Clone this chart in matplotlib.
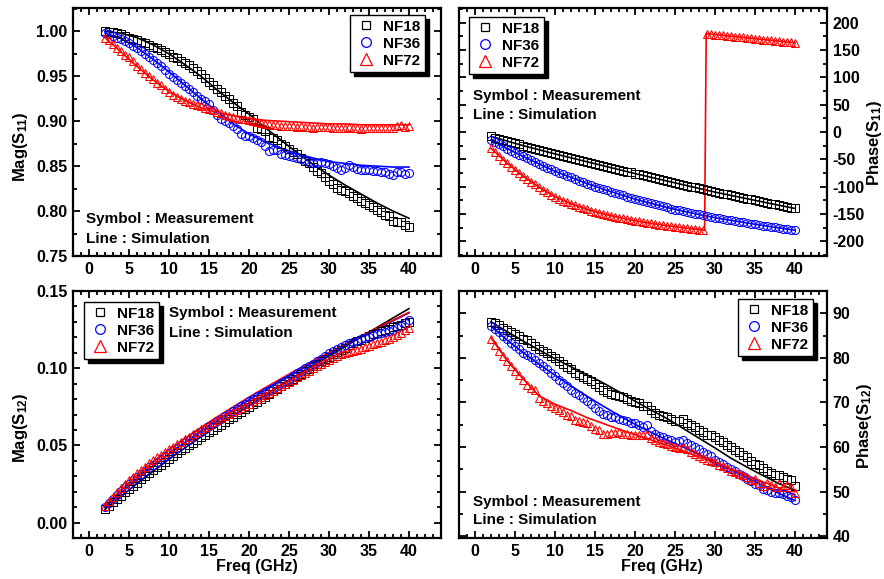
import numpy as np
import matplotlib
matplotlib.use("Agg")
import matplotlib.pyplot as plt
from matplotlib.lines import Line2D
from matplotlib.ticker import MultipleLocator, FormatStrFormatter

# ---------------------------------------------------------------- data
series_names = ["NF18", "NF36", "NF72"]
series_colors = ["black", "blue", "red"]
series_markers = ["s", "o", "^"]

# measurement sweep: 2 - 40 GHz, 0.5 GHz step
meas_freq = np.arange(2.0, 40.25, 0.5)
# simulation curves: 2 GHz step
sim_freq = np.arange(2.0, 40.5, 2.0)

# |S11|
s11_mag_nf18 = [
    1.000, 0.9995, 0.999, 0.998, 0.997, 0.995, 0.993, 0.992, 0.990, 0.988,
    0.987, 0.985, 0.983, 0.981, 0.979, 0.977, 0.975, 0.972, 0.970, 0.967,
    0.965, 0.963, 0.959, 0.956, 0.952, 0.948, 0.944, 0.940, 0.936, 0.932,
    0.928, 0.925, 0.920, 0.917, 0.910, 0.907, 0.905, 0.902, 0.893, 0.891,
    0.889, 0.882, 0.881, 0.879, 0.875, 0.872, 0.869, 0.866, 0.863, 0.859,
    0.856, 0.853, 0.849, 0.845, 0.842, 0.838, 0.834, 0.830, 0.826, 0.823,
    0.822, 0.820, 0.817, 0.814, 0.811, 0.809, 0.807, 0.804, 0.801, 0.799,
    0.796, 0.794, 0.789, 0.788, 0.788, 0.785, 0.782]
s11_mag_nf36 = [
    0.998, 0.997, 0.995, 0.993, 0.991, 0.989, 0.987, 0.984, 0.981, 0.978,
    0.975, 0.972, 0.968, 0.965, 0.961, 0.957, 0.953, 0.949, 0.946, 0.942,
    0.939, 0.936, 0.932, 0.928, 0.925, 0.922, 0.919, 0.912, 0.907, 0.903,
    0.900, 0.898, 0.895, 0.891, 0.886, 0.884, 0.883, 0.881, 0.879, 0.877,
    0.872, 0.867, 0.868, 0.868, 0.864, 0.862, 0.861, 0.860, 0.859, 0.858,
    0.857, 0.855, 0.853, 0.854, 0.855, 0.853, 0.852, 0.850, 0.848, 0.846,
    0.848, 0.851, 0.849, 0.847, 0.846, 0.846, 0.846, 0.845, 0.845, 0.844,
    0.843, 0.841, 0.840, 0.843, 0.844, 0.841, 0.842]
s11_mag_nf72 = [
    0.993, 0.990, 0.986, 0.982, 0.978, 0.974, 0.971, 0.967, 0.962, 0.958,
    0.954, 0.950, 0.947, 0.943, 0.940, 0.936, 0.932, 0.929, 0.927, 0.925,
    0.923, 0.921, 0.919, 0.918, 0.917, 0.915, 0.914, 0.912, 0.910, 0.909,
    0.907, 0.906, 0.905, 0.904, 0.903, 0.902, 0.901, 0.900, 0.899, 0.898,
    0.897, 0.897, 0.896, 0.896, 0.895, 0.895, 0.895, 0.895, 0.894, 0.895,
    0.894, 0.894, 0.893, 0.894, 0.894, 0.894, 0.894, 0.893, 0.892, 0.892,
    0.893, 0.894, 0.893, 0.892, 0.891, 0.893, 0.893, 0.893, 0.893, 0.892,
    0.893, 0.893, 0.893, 0.895, 0.896, 0.894, 0.895]
s11_mag_sim_nf18 = [1.000, 0.998, 0.993, 0.985, 0.975, 0.963, 0.950, 0.935, 0.921, 0.908,
                    0.893, 0.879, 0.865, 0.852, 0.840, 0.829, 0.819, 0.809, 0.800, 0.792]
s11_mag_sim_nf36 = [0.998, 0.992, 0.982, 0.969, 0.955, 0.940, 0.925, 0.911, 0.897, 0.886,
                    0.877, 0.870, 0.864, 0.859, 0.855, 0.853, 0.851, 0.850, 0.849, 0.849]
s11_mag_sim_nf72 = [0.993, 0.977, 0.961, 0.946, 0.933, 0.923, 0.915, 0.910, 0.906, 0.903,
                    0.901, 0.900, 0.899, 0.898, 0.897, 0.897, 0.896, 0.896, 0.896, 0.896]

# phase of S11 (deg)
s11_ph_nf18 = [
    -8.0, -10.2, -12.3, -14.5, -16.6, -18.9, -21.0, -22.8, -24.9, -26.6,
    -28.7, -30.4, -32.5, -34.2, -36.3, -38.0, -40.1, -41.7, -43.7, -45.3,
    -47.3, -48.9, -50.9, -52.5, -54.5, -56.1, -58.1, -59.7, -61.7, -63.3,
    -65.3, -66.9, -68.9, -70.5, -72.5, -74.1, -76.1, -77.6, -79.5, -81.0,
    -82.9, -84.4, -86.3, -87.8, -89.7, -91.2, -93.1, -94.6, -96.5, -98.0,
    -99.9, -101.4, -103.3, -104.8, -106.7, -108.2, -110.0, -111.4, -113.1, -114.4,
    -116.1, -117.4, -119.1, -120.4, -122.1, -123.4, -125.1, -126.4, -128.1, -129.4,
    -131.1, -132.4, -134.1, -135.4, -137.1, -138.4, -140.0]
s11_ph_nf36 = [
    -15.0, -18.9, -22.7, -26.5, -30.3, -34.2, -38.0, -41.4, -44.8, -48.2,
    -51.6, -55.0, -58.4, -61.8, -65.2, -68.6, -72.0, -74.8, -77.6, -80.4,
    -83.2, -86.0, -88.8, -91.6, -94.4, -97.2, -100.0, -102.3, -104.6, -106.9,
    -109.2, -111.5, -113.8, -116.1, -118.4, -120.7, -123.0, -124.9, -126.8, -128.7,
    -130.6, -132.5, -134.4, -136.3, -138.2, -140.1, -142.0, -143.5, -145.0, -146.5,
    -148.0, -149.5, -151.0, -152.5, -154.0, -155.5, -157.0, -158.2, -159.4, -160.6,
    -161.8, -163.0, -164.2, -165.4, -166.6, -167.8, -169.0, -170.1, -171.2, -172.3,
    -173.4, -174.5, -175.6, -176.7, -177.8, -178.9, -180.0]
s11_ph_nf72 = [
    -30.0, -37.0, -44.0, -51.0, -57.0, -63.5, -69.5, -75.0, -80.5, -86.0,
    -91.0, -96.0, -101.0, -105.5, -110.0, -114.5, -118.5, -122.0, -125.5, -128.5,
    -131.5, -134.0, -136.5, -139.0, -141.5, -143.8, -146.0, -148.0, -149.9, -151.7,
    -153.4, -155.0, -156.6, -158.1, -159.6, -161.0, -162.4, -163.7, -165.0, -166.2,
    -167.4, -168.5, -169.6, -170.6, -171.6, -172.6, -173.5, -174.4, -175.3, -176.2,
    -177.0, -177.8, -178.6, -179.4, 179.8, 179.0, 178.3, 177.5, 176.8, 176.0,
    175.3, 174.5, 173.8, 173.0, 172.3, 171.5, 170.8, 170.0, 169.3, 168.5,
    167.8, 167.0, 166.3, 165.5, 164.8, 164.0, 163.3]
s11_ph_sim_nf18 = [-8.0, -16.6, -24.9, -32.5, -40.1, -47.3, -54.5, -61.7, -68.9, -76.1,
                   -82.9, -89.7, -96.5, -103.3, -110.0, -116.1, -122.1, -128.1, -134.1, -140.0]
s11_ph_sim_nf36 = [-15.0, -30.3, -44.8, -58.4, -72.0, -83.2, -94.4, -104.6, -113.8, -123.0,
                   -130.6, -138.2, -145.0, -151.0, -157.0, -161.8, -166.6, -171.2, -175.6, -180.0]
# NF72 simulation wraps from -180 to +180 deg near 28.8 GHz
s11_ph_sim_nf72_freq = [2, 4, 6, 8, 10, 12, 14, 16, 18, 20, 22, 24, 26, 28, 28.7, 28.9,
                        30, 32, 34, 36, 38, 40]
s11_ph_sim_nf72 = [-30.0, -57.0, -80.5, -101.0, -118.5, -131.5, -141.5, -149.9, -156.6, -162.4,
                   -167.4, -171.6, -175.3, -178.6, -180.0, 180.0,
                   178.3, 175.3, 172.3, 169.3, 166.3, 163.3]

# |S12|
s12_mag_nf18 = [
    0.0086, 0.0108, 0.0131, 0.0153, 0.0175, 0.0197, 0.0218, 0.0239, 0.0259, 0.0279,
    0.0299, 0.0319, 0.0338, 0.0357, 0.0376, 0.0395, 0.0413, 0.0431, 0.0449, 0.0467,
    0.0484, 0.0501, 0.0518, 0.0535, 0.0552, 0.0569, 0.0585, 0.0602, 0.0618, 0.0635,
    0.0651, 0.0668, 0.0684, 0.0701, 0.0717, 0.0734, 0.0750, 0.0767, 0.0783, 0.0800,
    0.0816, 0.0833, 0.0849, 0.0866, 0.0882, 0.0899, 0.0915, 0.0932, 0.0948, 0.0964,
    0.0980, 0.0996, 0.1012, 0.1028, 0.1044, 0.1060, 0.1075, 0.1090, 0.1105, 0.1119,
    0.1133, 0.1147, 0.1160, 0.1173, 0.1185, 0.1197, 0.1208, 0.1219, 0.1229, 0.1239,
    0.1248, 0.1257, 0.1265, 0.1273, 0.1281, 0.1290, 0.1300]
s12_mag_nf36 = [
    0.0099, 0.0126, 0.0152, 0.0178, 0.0204, 0.0228, 0.0252, 0.0274, 0.0296, 0.0317,
    0.0337, 0.0357, 0.0376, 0.0395, 0.0413, 0.0431, 0.0449, 0.0467, 0.0484, 0.0502,
    0.0519, 0.0537, 0.0554, 0.0572, 0.0589, 0.0606, 0.0623, 0.0640, 0.0656, 0.0673,
    0.0689, 0.0705, 0.0721, 0.0737, 0.0753, 0.0769, 0.0785, 0.0800, 0.0818, 0.0826,
    0.0843, 0.0858, 0.0872, 0.0887, 0.0902, 0.0917, 0.0932, 0.0949, 0.0966, 0.0982,
    0.0998, 0.1014, 0.1030, 0.1046, 0.1062, 0.1079, 0.1098, 0.1112, 0.1125, 0.1138,
    0.1150, 0.1160, 0.1170, 0.1179, 0.1188, 0.1197, 0.1205, 0.1213, 0.1220, 0.1227,
    0.1234, 0.1242, 0.1250, 0.1262, 0.1275, 0.1290, 0.1310]
s12_mag_nf72 = [
    0.0107, 0.0138, 0.0168, 0.0196, 0.0224, 0.0250, 0.0275, 0.0298, 0.0321, 0.0342,
    0.0363, 0.0383, 0.0403, 0.0422, 0.0440, 0.0458, 0.0475, 0.0492, 0.0508, 0.0524,
    0.0540, 0.0556, 0.0572, 0.0588, 0.0604, 0.0620, 0.0635, 0.0649, 0.0663, 0.0677,
    0.0690, 0.0704, 0.0717, 0.0731, 0.0744, 0.0758, 0.0771, 0.0785, 0.0799, 0.0813,
    0.0827, 0.0841, 0.0855, 0.0869, 0.0883, 0.0897, 0.0911, 0.0926, 0.0940, 0.0955,
    0.0969, 0.0984, 0.0998, 0.1013, 0.1027, 0.1041, 0.1055, 0.1068, 0.1080, 0.1089,
    0.1098, 0.1104, 0.1109, 0.1118, 0.1127, 0.1136, 0.1145, 0.1154, 0.1163, 0.1172,
    0.1181, 0.1190, 0.1200, 0.1214, 0.1228, 0.1245, 0.1262]
s12_mag_sim_nf18 = [0.0086, 0.0170, 0.0252, 0.0332, 0.0410, 0.0484, 0.0556, 0.0626, 0.0694, 0.0760,
                    0.0826, 0.0890, 0.0954, 0.1016, 0.1078, 0.1140, 0.1202, 0.1264, 0.1325, 0.1386]
s12_mag_sim_nf36 = [0.0099, 0.0192, 0.0280, 0.0364, 0.0444, 0.0520, 0.0593, 0.0663, 0.0730, 0.0795,
                    0.0858, 0.0919, 0.0978, 0.1036, 0.1092, 0.1147, 0.1201, 0.1254, 0.1306, 0.1358]
s12_mag_sim_nf72 = [0.0107, 0.0212, 0.0305, 0.0390, 0.0470, 0.0545, 0.0616, 0.0684, 0.0749, 0.0812,
                    0.0873, 0.0932, 0.0990, 0.1046, 0.1101, 0.1155, 0.1208, 0.1260, 0.1311, 0.1362]

# phase of S12 (deg)
s12_ph_nf18 = [
    88.1, 87.8, 87.3, 86.8, 86.3, 85.8, 85.3, 84.8, 84.3, 83.9,
    83.4, 82.7, 82.0, 81.5, 81.0, 80.5, 79.9, 79.4, 78.6, 78.0,
    77.4, 76.7, 76.2, 75.8, 75.3, 74.8, 74.1, 73.5, 72.9, 72.3,
    71.9, 71.7, 71.5, 71.2, 70.8, 70.3, 70.2, 69.9, 69.3, 69.3,
    68.4, 67.6, 67.2, 67.0, 66.7, 66.2, 65.8, 65.9, 66.2, 65.4,
    64.9, 64.4, 63.8, 63.4, 62.8, 62.6, 62.2, 61.6, 61.1, 60.5,
    60.1, 59.4, 58.8, 58.3, 57.7, 56.9, 56.3, 55.9, 55.3, 54.6,
    54.2, 53.8, 53.7, 53.2, 52.8, 52.6, 51.3]
s12_ph_nf36 = [
    87.1, 86.5, 85.8, 85.0, 84.3, 83.4, 82.6, 81.9, 81.2, 80.6,
    80.1, 79.5, 78.8, 78.2, 77.4, 76.6, 75.9, 75.1, 74.4, 73.6,
    72.8, 72.1, 71.6, 71.1, 70.4, 69.6, 68.8, 68.1, 67.5, 67.1,
    66.8, 66.7, 66.3, 66.0, 65.8, 65.4, 65.5, 64.9, 64.6, 65.0,
    63.5, 62.9, 62.5, 62.2, 61.9, 61.5, 61.2, 61.3, 61.6, 60.8,
    60.4, 60.1, 59.6, 59.0, 58.4, 57.9, 57.2, 56.7, 56.2, 55.5,
    55.1, 54.6, 54.0, 53.4, 52.9, 52.3, 51.8, 51.4, 50.6, 50.3,
    49.9, 49.6, 49.8, 49.4, 49.0, 48.7, 48.2]
s12_ph_nf72 = [
    84.2, 82.9, 81.6, 80.4, 79.2, 78.1, 77.1, 76.1, 75.0, 74.0,
    73.3, 72.8, 71.0, 70.4, 69.9, 69.3, 68.8, 68.3, 67.8, 67.3,
    66.9, 66.0, 65.8, 65.7, 65.3, 64.7, 64.1, 63.8, 63.0, 63.0,
    63.1, 63.1, 63.4, 63.0, 62.9, 62.6, 62.6, 62.8, 62.6, 62.9,
    62.0, 61.6, 61.2, 60.9, 60.7, 60.3, 60.0, 59.8, 60.0, 59.5,
    59.0, 58.4, 58.0, 57.6, 57.2, 56.9, 56.6, 56.0, 55.8, 55.2,
    54.7, 54.4, 53.9, 53.7, 53.3, 52.7, 52.9, 51.9, 51.3, 51.9,
    51.4, 51.0, 51.9, 51.1, 51.4, 51.0, 49.8]
s12_ph_sim_nf18 = [88.1, 85.9, 83.8, 81.8, 79.8, 78.0, 76.2, 74.4, 72.4, 70.3,
                   68.3, 66.4, 64.2, 62.0, 59.8, 57.5, 55.5, 53.6, 51.8, 50.3]
s12_ph_sim_nf36 = [87.1, 84.0, 81.2, 78.6, 76.1, 73.7, 71.4, 69.2, 67.1, 65.1,
                   63.3, 61.6, 60.0, 58.3, 56.6, 54.9, 53.1, 51.3, 49.6, 48.0]
s12_ph_sim_nf72 = [84.5, 79.4, 75.3, 71.5, 69.6, 68.2, 66.6, 65.3, 64.0, 62.8,
                   61.6, 60.4, 59.1, 57.8, 56.5, 55.0, 53.6, 52.2, 50.8, 49.3]

# ---------------------------------------------------------------- style
plt.rcParams["font.family"] = ["Liberation Sans", "DejaVu Sans"]
plt.rcParams["font.weight"] = "bold"
plt.rcParams["axes.labelweight"] = "bold"
plt.rcParams["mathtext.default"] = "regular"

W, H = 884, 579
fig = plt.figure(figsize=(W / 100, H / 100), dpi=100)

TICK_FS = 11.5
TEXT_FS = 11
LABEL_FS = 12


def fx(px):
    return px / W


def fy(py):
    return 1 - py / H


def add_panel(left, top, right, bottom):
    return fig.add_axes([fx(left), fy(bottom), (right - left) / W, (bottom - top) / H])


def style_axes(ax, ylim, ymajor, yminor, yfmt, label_side):
    ax.set_xlim(-2, 44)
    ax.set_ylim(*ylim)
    ax.xaxis.set_major_locator(MultipleLocator(5))
    ax.xaxis.set_minor_locator(MultipleLocator(1))
    ax.yaxis.set_major_locator(MultipleLocator(ymajor))
    ax.yaxis.set_minor_locator(MultipleLocator(yminor))
    ax.yaxis.set_major_formatter(FormatStrFormatter(yfmt))
    for sp in ax.spines.values():
        sp.set_linewidth(1.6)
    ax.tick_params(which="both", direction="in", top=True, bottom=True,
                   left=True, right=True, width=1.3,
                   labelleft=(label_side == "left"),
                   labelright=(label_side == "right"),
                   labelsize=TICK_FS)
    ax.tick_params(which="major", length=5, pad=4)
    ax.tick_params(which="minor", length=2.8)
    for lab in ax.get_xticklabels() + ax.get_yticklabels():
        lab.set_fontweight("bold")


def draw_series(ax, meas_list, sim_list, sim_x_list, msizes):
    for meas, sim, sx, c, mk, ms in zip(meas_list, sim_list, sim_x_list,
                                         series_colors, series_markers, msizes):
        ax.plot(sx, sim, color=c, lw=1.2, zorder=2)
        ax.plot(meas_freq, meas, ls="none", marker=mk, ms=ms, mfc="none",
                mec=c, mew=0.75, zorder=3)


def add_legend(ax, left, top):
    handles = [Line2D([], [], ls="none", marker=mk, ms=ms, mfc="none", mec=c, mew=0.9)
               for mk, c, ms in zip(series_markers, series_colors, [6.0, 7.0, 8.0])]
    leg = ax.legend(handles, series_names, loc="upper left",
                    bbox_to_anchor=(fx(left), fy(top)), bbox_transform=fig.transFigure,
                    frameon=True, fancybox=False, edgecolor="black", framealpha=1,
                    shadow={"ox": 3, "oy": -3, "shade": 1.0, "alpha": 1},
                    borderpad=0.3, labelspacing=0.2, handlelength=1.5,
                    handletextpad=0.35, borderaxespad=0,
                    prop={"size": TEXT_FS, "weight": "bold"})
    leg.get_frame().set_linewidth(1.0)
    leg.set_zorder(5)


def add_note(x, y1, y2):
    fig.text(fx(x), fy(y1), "Symbol : Measurement", fontsize=TEXT_FS,
             fontweight="bold", ha="left", va="baseline")
    fig.text(fx(x), fy(y2), "Line : Simulation", fontsize=TEXT_FS,
             fontweight="bold", ha="left", va="baseline")


msz = [5.4, 5.8, 6.3]

# ---- |S11|
ax1 = add_panel(73, 8, 441, 256)
draw_series(ax1, [s11_mag_nf18, s11_mag_nf36, s11_mag_nf72],
            [s11_mag_sim_nf18, s11_mag_sim_nf36, s11_mag_sim_nf72],
            [sim_freq] * 3, msz)
style_axes(ax1, (0.75, 1.026), 0.05, 0.025, "%.2f", "left")
add_legend(ax1, 350, 15)
add_note(86, 223.3, 242.7)

# ---- phase S11
ax2 = add_panel(459, 8, 827, 256)
draw_series(ax2, [s11_ph_nf18, s11_ph_nf36, s11_ph_nf72],
            [s11_ph_sim_nf18, s11_ph_sim_nf36, s11_ph_sim_nf72],
            [sim_freq, sim_freq, s11_ph_sim_nf72_freq], msz)
style_axes(ax2, (-227, 227), 50, 25, "%d", "right")
add_legend(ax2, 469, 17)
add_note(473.3, 100, 119)

# ---- |S12|
ax3 = add_panel(73, 291, 441, 538)
draw_series(ax3, [s12_mag_nf18, s12_mag_nf36, s12_mag_nf72],
            [s12_mag_sim_nf18, s12_mag_sim_nf36, s12_mag_sim_nf72],
            [sim_freq] * 3, msz)
style_axes(ax3, (-0.01, 0.15), 0.05, 0.01, "%.2f", "left")
add_legend(ax3, 84, 302)
add_note(169.3, 317.3, 337.3)

# ---- phase S12
ax4 = add_panel(459, 291, 827, 538)
draw_series(ax4, [s12_ph_nf18, s12_ph_nf36, s12_ph_nf72],
            [s12_ph_sim_nf18, s12_ph_sim_nf36, s12_ph_sim_nf72],
            [sim_freq] * 3, msz)
style_axes(ax4, (39.6, 95), 10, 5, "%d", "right")
add_legend(ax4, 738, 299)
add_note(473.3, 505.7, 524.3)

# ---- axis titles
fig.text(fx(21), fy(147), "Mag(S$_{11}$)", rotation=90, fontsize=LABEL_FS,
         fontweight="bold", ha="center", va="center")
fig.text(fx(21), fy(428), "Mag(S$_{12}$)", rotation=90, fontsize=LABEL_FS,
         fontweight="bold", ha="center", va="center")
fig.text(fx(875), fy(143), "Phase(S$_{11}$)", rotation=90, fontsize=LABEL_FS,
         fontweight="bold", ha="center", va="center")
fig.text(fx(865), fy(426), "Phase(S$_{12}$)", rotation=90, fontsize=LABEL_FS,
         fontweight="bold", ha="center", va="center")
fig.text(fx(257), fy(567), "Freq (GHz)", fontsize=LABEL_FS - 0.5,
         fontweight="bold", ha="center", va="center")
fig.text(fx(662), fy(567), "Freq (GHz)", fontsize=LABEL_FS - 0.5,
         fontweight="bold", ha="center", va="center")

fig.savefig("out.png", dpi=100)
